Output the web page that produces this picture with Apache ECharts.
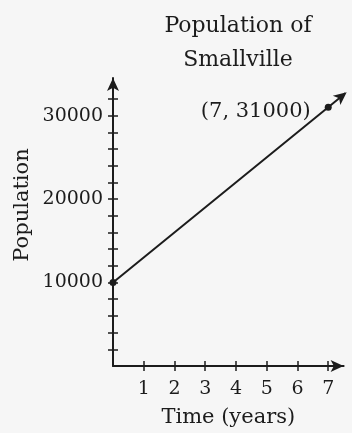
<!DOCTYPE html>
<html>
<head>
<meta charset="utf-8">
<script src="https://cdn.jsdelivr.net/npm/echarts@6/dist/echarts.min.js"></script>
<style>
  html, body { margin: 0; padding: 0; background: #f6f6f6; }
  #chart { width: 352px; height: 433px; }
</style>
</head>
<body>
<div id="chart"></div>
<script>
// data
var years = [0, 7];
var population = [10000, 31000];
var arrowEnd = [7.6, 32800];          // line keeps going past (7, 31000)
var xTickLabels = [1, 2, 3, 4, 5, 6, 7];
var yTickLabels = [10000, 20000, 30000];
var yTicks = [2000, 4000, 6000, 8000, 10000, 12000, 14000, 16000,
              18000, 20000, 22000, 24000, 26000, 28000, 30000, 32000];

var ink = '#1c1c1c';
var serif = 'DejaVu Serif';

var chart = echarts.init(document.getElementById('chart'));

var points = years.map(function (x, i) {
    return { value: [x, population[i]], symbol: 'circle', symbolSize: 7 };
});
points.push({ value: arrowEnd, symbol: 'arrow', symbolSize: [9, 13], symbolRotate: -51 });

// ticks cross the axes: one axis draws them outside, a twin draws them inside
var xBase = { type: 'value', position: 'bottom', min: 0, max: 7.5, interval: 1, splitLine: { show: false } };
var yBase = { type: 'value', position: 'left', min: 0, max: 34500, interval: 2000, splitLine: { show: false } };
var tickStyle = { color: ink, width: 1.5 };
var plain = function (v) { return String(v); };

var option = {
    backgroundColor: '#f6f6f6',
    animation: false,
    title: {
        text: 'Population of\nSmallville',
        left: 233,
        top: 4,
        textAlign: 'center',
        textStyle: { fontFamily: serif, fontSize: 22, fontWeight: 'normal', color: ink, lineHeight: 34 }
    },
    grid: { left: 113, right: 8.4, top: 78, bottom: 65 },
    xAxis: [
        Object.assign({}, xBase, {
            name: 'Time (years)',
            nameLocation: 'middle',
            nameGap: 41,
            nameTextStyle: { fontFamily: serif, fontSize: 21, color: ink },
            axisLine: { show: true, onZero: false, lineStyle: { color: ink, width: 2 }, symbol: ['none', 'arrow'], symbolSize: [9, 13] },
            axisTick: { show: true, length: 5, customValues: xTickLabels, lineStyle: tickStyle },
            axisLabel: { margin: 14, fontFamily: serif, fontSize: 19, color: ink, customValues: xTickLabels, formatter: plain }
        }),
        Object.assign({}, xBase, {
            axisLine: { show: false, onZero: false },
            axisTick: { show: true, inside: true, length: 5, customValues: xTickLabels, lineStyle: tickStyle },
            axisLabel: { show: false }
        })
    ],
    yAxis: [
        Object.assign({}, yBase, {
            axisLine: { show: true, onZero: false, lineStyle: { color: ink, width: 2 }, symbol: ['none', 'arrow'], symbolSize: [9, 13] },
            axisTick: { show: true, length: 5, customValues: yTicks, lineStyle: tickStyle },
            axisLabel: { margin: 10, fontFamily: serif, fontSize: 19, color: ink, customValues: yTickLabels, formatter: plain }
        }),
        Object.assign({}, yBase, {
            axisLine: { show: false, onZero: false },
            axisTick: { show: true, inside: true, length: 5, customValues: yTicks, lineStyle: tickStyle },
            axisLabel: { show: false }
        })
    ],
    graphic: [
        {
            type: 'text',
            x: 23, y: 205,
            rotation: Math.PI / 2,
            style: {
                text: 'Population',
                font: '21px "DejaVu Serif"',
                fill: ink,
                align: 'center',
                verticalAlign: 'middle'
            }
        }
    ],
    series: [
        {
            type: 'line',
            data: points,
            clip: false,
            lineStyle: { color: ink, width: 2 },
            itemStyle: { color: ink },
            label: {
                show: true,
                fontFamily: serif, fontSize: 21, color: ink,
                position: 'left',
                distance: 14,
                offset: [0, 4],
                formatter: function (p) {
                    return p.dataIndex === 1 ? '(' + years[1] + ', ' + population[1] + ')' : '';
                }
            }
        }
    ]
};

chart.setOption(option);
</script>
</body>
</html>
